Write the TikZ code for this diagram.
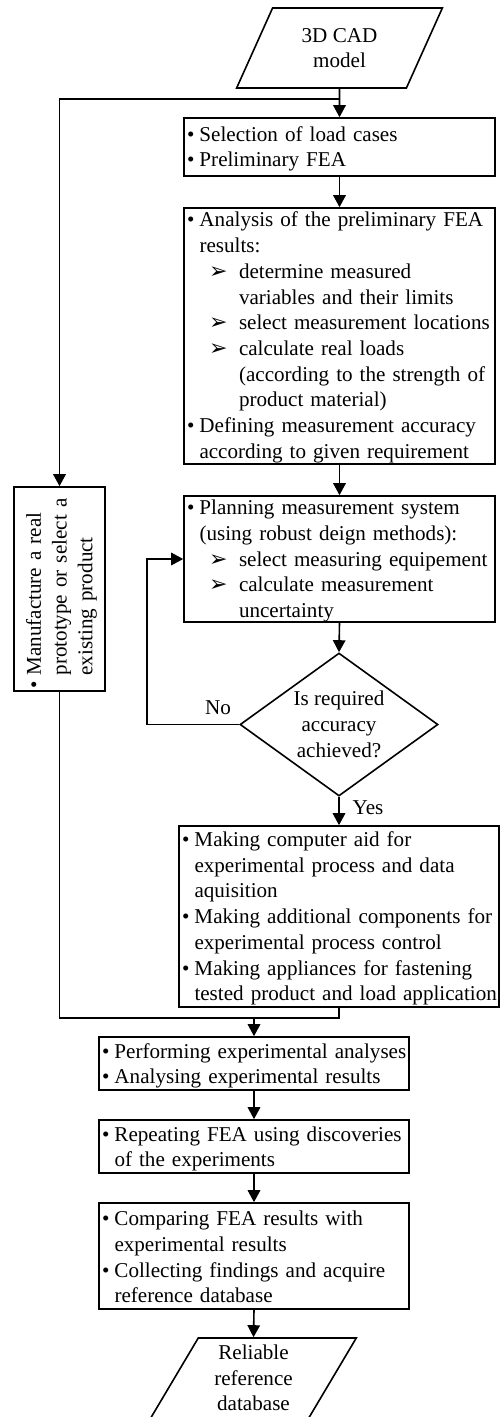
\documentclass[tikz,border=0pt]{standalone}
\usepackage{fontspec}
\setmainfont{Liberation Serif}
\newfontfamily\djv{DejaVu Sans}
\usetikzlibrary{arrows.meta,shapes.geometric}
\setlength{\parskip}{0pt}
\newcommand\Bi[1]{\par\noindent\makebox[12.5pt][l]{\textbullet}\mbox{#1}}
\newcommand\Li[1]{\par\noindent\hspace*{12.5pt}\mbox{#1}}
\newcommand\Si[1]{\par\noindent\hspace*{22pt}\makebox[30pt][l]{\raisebox{0pt}[0pt][0pt]{\djv\fontsize{22}{22}\selectfont ➢}}\mbox{#1}}
\newcommand\Sl[1]{\par\noindent\hspace*{52pt}\mbox{#1}}
\tikzset{
  box/.style={draw, rectangle, inner sep=0pt},
  txt/.style={inner sep=0pt, align=left},
  io/.style={draw, trapezium, trapezium left angle=63, trapezium right angle=117,
     trapezium stretches=true, minimum width=206, minimum height=80, inner sep=0pt, align=center},
  arr/.style={-{Triangle[width=12.5pt,length=12pt]}},
  lbl/.style={inner sep=0pt},
}
\begin{document}
\begin{tikzpicture}[x=1pt,y=1pt,line width=1.6pt,
  font=\fontsize{21.1}{25.7}\selectfont]
\useasboundingbox (0,0) rectangle (500,-1417);

\node[io] (cad) at (339.5,-48) {3D CAD\\model};

\node[box, minimum width=311, minimum height=58] (box1) at (339.5,-147) {};
\node[txt, text width=305pt] (t1) at ([yshift=3.5]box1.center)
 {\Bi{Selection of load cases}\Bi{Preliminary FEA}};

\node[box, minimum width=311, minimum height=256] (box2) at (339.5,-336) {};
\node[txt, text width=305pt] (t2) at ([yshift=4]box2.center)
 {\Bi{Analysis of the preliminary FEA}\Li{results:}
  \Si{determine measured}\Sl{variables and their limits}
  \Si{select measurement locations}
  \Si{calculate real loads}\Sl{(according to the strength of}\Sl{product material)}
  \Bi{Defining measurement accuracy}\Li{according to given requirement}};

\node[box, minimum width=311, minimum height=126] (box3) at (339.5,-559) {};
\node[txt, text width=305pt] (t3) at ([yshift=3.5]box3.center)
 {\Bi{Planning measurement system}\Li{(using robust deign methods):}
  \Si{select measuring equipement}
  \Si{calculate measurement}\Sl{uncertainty}};

\node[draw, diamond, aspect=1.385, minimum width=198, minimum height=143, inner sep=0pt, align=center]
 (dia) at (339,-724.5) {Is required\\accuracy\\achieved?};

\node[box, minimum width=320, minimum height=181] (box4) at (339,-916.5) {};
\node[txt, text width=314pt] (t4) at ([yshift=3.5]box4.center)
 {\Bi{Making computer aid for}\Li{experimental process and data}\Li{aquisition}
  \Bi{Making additional components for}\Li{experimental process control}
  \Bi{Making appliances for fastening}\Li{tested product and load application}};

\node[box, minimum width=91, minimum height=204] (lbox) at (59.5,-589) {};
\node[txt, rotate=90, text width=198pt] (tl) at ([xshift=-3.5]lbox.center)
 {\Bi{Manufacture a real}\Li{prototype or select a}\Li{existing product}};

\node[box, minimum width=310, minimum height=53] (box5) at (254,-1063.5) {};
\node[txt, text width=304pt] (t5) at ([yshift=3]box5.center)
 {\Bi{Performing experimental analyses}\Bi{Analysing experimental results}};

\node[box, minimum width=310, minimum height=53] (box6) at (254,-1146.5) {};
\node[txt, text width=304pt] (t6) at ([yshift=3]box6.center)
 {\Bi{Repeating FEA using discoveries}\Li{of the experiments}};

\node[box, minimum width=310, minimum height=106] (box7) at (254,-1256) {};
\node[txt, text width=304pt] (t7) at ([yshift=4.5]box7.center)
 {\Bi{Comparing FEA results with}\Li{experimental results}
  \Bi{Collecting findings and acquire}\Li{reference database}};

\node[io] (db) at (253.5,-1378) {Reliable\\reference\\database};

\node[lbl] (no) at (218,-708) {No};
\node[lbl] (yes) at (368,-808) {Yes};

\coordinate (j1) at (339.5,-99);
\coordinate (j2) at (254,-1018);

\draw[arr] (cad.south) -- (box1.north);
\draw[arr] (j1) -| (lbox.north);
\draw[arr] (box1.south) -- (box2.north);
\draw[arr] (box2.south) -- (box3.north);
\draw[arr] (box3.south) -- (dia.north);
\draw[arr] (dia.west) -- ++(-92,0) |- (box3.west);
\draw[arr] (dia.south) -- (box4.north);
\draw (box4.south) -- (box4.south |- j2) -| (lbox.south);
\draw[arr] (j2) -- (box5.north);
\draw[arr] (box5.south) -- (box6.north);
\draw[arr] (box6.south) -- (box7.north);
\draw[arr] (box7.south) -- (db.north);
\end{tikzpicture}
\end{document}
